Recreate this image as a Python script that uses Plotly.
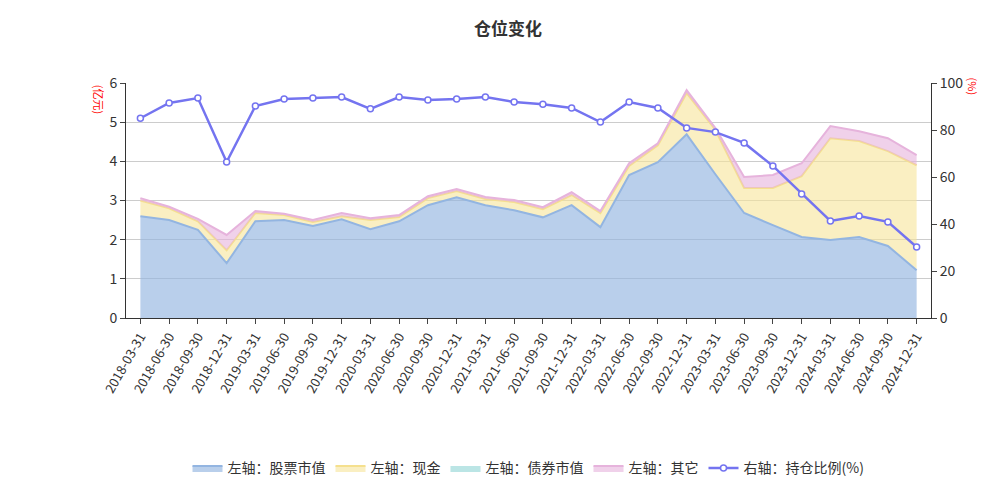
import plotly.graph_objects as go

dates = ["2018-03-31", "2018-06-30", "2018-09-30", "2018-12-31",
         "2019-03-31", "2019-06-30", "2019-09-30", "2019-12-31",
         "2020-03-31", "2020-06-30", "2020-09-30", "2020-12-31",
         "2021-03-31", "2021-06-30", "2021-09-30", "2021-12-31",
         "2022-03-31", "2022-06-30", "2022-09-30", "2022-12-31",
         "2023-03-31", "2023-06-30", "2023-09-30", "2023-12-31",
         "2024-03-31", "2024-06-30", "2024-09-30", "2024-12-31"]

# 亿元
stock = [2.60, 2.50, 2.25, 1.40, 2.47, 2.50, 2.35, 2.52, 2.27, 2.47, 2.88, 3.08, 2.88, 2.75,
         2.57, 2.88, 2.32, 3.65, 3.98, 4.69, 3.67, 2.68, 2.37, 2.07, 1.99, 2.07, 1.84, 1.22]
cash = [0.40, 0.30, 0.22, 0.33, 0.21, 0.13, 0.10, 0.08, 0.23, 0.11, 0.18, 0.16, 0.16, 0.21,
        0.21, 0.26, 0.36, 0.23, 0.43, 1.05, 1.13, 0.64, 0.95, 1.55, 2.60, 2.45, 2.42, 2.68]
bond = [0.0] * 28
other = [0.06, 0.04, 0.06, 0.39, 0.05, 0.03, 0.05, 0.08, 0.05, 0.05, 0.05, 0.05, 0.05, 0.05,
         0.05, 0.07, 0.05, 0.07, 0.05, 0.08, 0.05, 0.28, 0.33, 0.33, 0.31, 0.25, 0.33, 0.26]
# %
ratio = [85.0, 91.5, 93.6, 66.4, 90.2, 93.2, 93.6, 94.0, 89.0, 94.0, 92.8, 93.2, 94.0, 91.9,
         91.0, 89.4, 83.4, 91.9, 89.4, 80.9, 79.1, 74.5, 64.7, 52.8, 41.3, 43.4, 40.9, 30.2]

fig = go.Figure()

areas = [
    ("左轴：股票市值", stock, "#93b5e1", "rgba(147,181,225,0.65)", 2),
    ("左轴：现金", cash, "#f5e08e", "rgba(247,229,154,0.6)", 2),
    ("左轴：债券市值", bond, "#8ed3d3", "rgba(142,211,211,0.6)", 0),
    ("左轴：其它", other, "#e6b3dc", "rgba(230,179,220,0.6)", 2),
]
for name, vals, lc, fc, w in areas:
    fig.add_trace(go.Scatter(
        x=dates, y=vals, name=name, stackgroup="one", mode="lines",
        line=dict(color=lc, width=w), fillcolor=fc, yaxis="y"
    ))

fig.add_trace(go.Scatter(
    x=dates, y=ratio, name="右轴：持仓比例(%)", mode="lines+markers",
    line=dict(color="#7474f0", width=2.5),
    marker=dict(size=6, color="white", line=dict(color="#7474f0", width=1.5)),
    yaxis="y2"
))

fig.update_layout(
    width=1000, height=488,
    paper_bgcolor="white", plot_bgcolor="white",
    font=dict(family="Noto Sans CJK SC", size=13, color="#333"),
    title=dict(text="<b>仓位变化</b>", x=0.5, y=0.97, xanchor="center",
               font=dict(size=17, color="#333")),
    margin=dict(l=118, r=77, t=75, b=178),
    xaxis=dict(type="category", range=[-0.5, 27.5], tickangle=-60, automargin=False,
               showline=True, linecolor="#333", ticks="outside", showgrid=False,
               tickfont=dict(size=13)),
    yaxis=dict(range=[0, 6], dtick=1, showgrid=True, gridcolor="#ccc", automargin=False,
               showline=True, linecolor="#333", ticks="outside", zeroline=False,
               tickfont=dict(size=14)),
    yaxis2=dict(range=[0, 100], dtick=20, overlaying="y", side="right", automargin=False,
                showgrid=False, showline=True, linecolor="#333", ticks="outside",
                zeroline=False, tickfont=dict(size=14)),
    legend=dict(orientation="h", x=0.5, xanchor="center", y=-0.64, yanchor="middle",
                traceorder="normal", font=dict(size=14)),
    annotations=[
        dict(text="(亿元)", xref="paper", yref="paper", x=-0.045, y=1.0,
             showarrow=False, textangle=90, font=dict(color="red", size=11)),
        dict(text="(%)", xref="paper", yref="paper", x=1.065, y=1.03,
             showarrow=False, textangle=90, font=dict(color="red", size=11)),
    ],
)

fig.write_html("out.html")
